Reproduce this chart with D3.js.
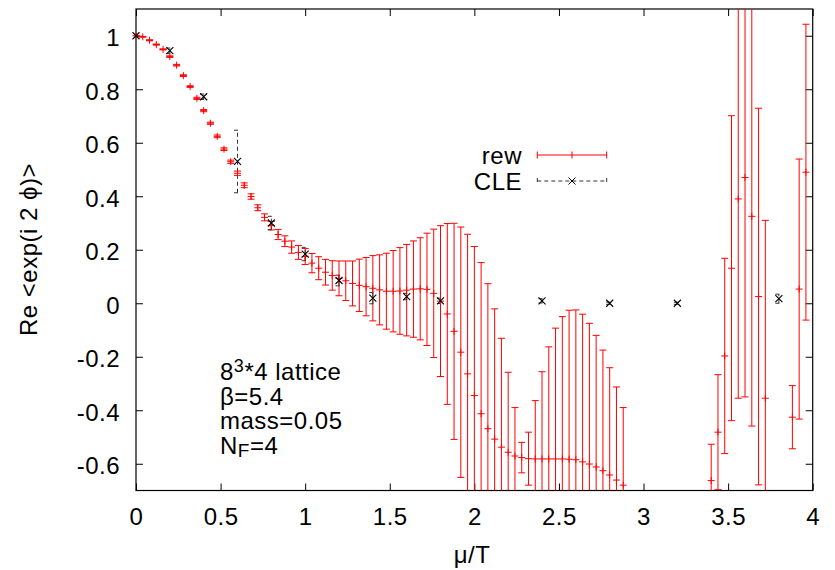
<!DOCTYPE html>
<html>
<head>
<meta charset="utf-8">
<script src="https://cdn.jsdelivr.net/npm/d3@7"></script>
<style>
    body {margin: 0; background: #fff}
    text {font-family: "Liberation Sans", Arial, Helvetica, sans-serif; fill: #000}
</style>
</head>
<body>
<svg id="chart" width="835" height="570"></svg>
<script>
const xTicks = [0, 0.5, 1, 1.5, 2, 2.5, 3, 3.5, 4]
const xTickLabels = ["0", "0.5", "1", "1.5", "2", "2.5", "3", "3.5", "4"]
const yTicks = [-0.6, -0.4, -0.2, 0, 0.2, 0.4, 0.6, 0.8, 1]
const yTickLabels = ["-0.6", "-0.4", "-0.2", "0", "0.2", "0.4", "0.6", "0.8", "1"]

// reweighting: mu/T, value, error (only the points that show up in the frame)
const rewMu = [
    0.00, 0.04, 0.08, 0.12, 0.16, 0.20, 0.24, 0.28, 0.32, 0.36,
    0.40, 0.44, 0.48, 0.52, 0.56, 0.60, 0.64, 0.68, 0.72, 0.76,
    0.80, 0.84, 0.88, 0.92, 0.96, 1.00, 1.04, 1.08, 1.12, 1.16,
    1.20, 1.24, 1.28, 1.32, 1.36, 1.40, 1.44, 1.48, 1.52, 1.56,
    1.60, 1.64, 1.68, 1.72, 1.76, 1.80, 1.84, 1.88, 1.92, 1.96,
    2.00, 2.04, 2.08, 2.12, 2.16, 2.20, 2.24, 2.28, 2.32, 2.36,
    2.40, 2.44, 2.48, 2.52, 2.56, 2.60, 2.64, 2.68, 2.72, 2.76,
    2.80, 2.84, 2.88,
    3.40, 3.44, 3.48, 3.52, 3.56, 3.60, 3.64, 3.68, 3.72,
    3.88, 3.92, 3.96]
const rewValue = [
    1.000, 0.996, 0.983, 0.967, 0.949, 0.922, 0.890, 0.851, 0.810, 0.766,
    0.720, 0.673, 0.624, 0.576, 0.529, 0.486, 0.441, 0.399, 0.357, 0.321,
    0.290, 0.257, 0.232, 0.210, 0.190, 0.175, 0.150, 0.131, 0.116, 0.104,
    0.093, 0.084, 0.074, 0.067, 0.062, 0.056, 0.050, 0.045, 0.045, 0.046,
    0.049, 0.053, 0.054, 0.052, 0.037, 0.008, -0.040, -0.105, -0.183, -0.264,
    -0.345, -0.413, -0.469, -0.508, -0.538, -0.557, -0.571, -0.577, -0.581, -0.582,
    -0.582, -0.582, -0.582, -0.582, -0.583, -0.585, -0.593, -0.601, -0.612, -0.626,
    -0.642, -0.661, -0.680,
    -0.663, -0.482, -0.197, 0.131, 0.390, 0.470, 0.325, 0.025, -0.355,
    -0.426, 0.053, 0.490]
const rewError = [
    0.001, 0.001, 0.002, 0.002, 0.002, 0.003, 0.003, 0.003, 0.003, 0.004,
    0.004, 0.004, 0.005, 0.005, 0.006, 0.008, 0.009, 0.010, 0.011, 0.013,
    0.016, 0.019, 0.020, 0.023, 0.026, 0.030, 0.036, 0.043, 0.048, 0.055,
    0.065, 0.074, 0.084, 0.098, 0.109, 0.122, 0.131, 0.142, 0.152, 0.162,
    0.171, 0.180, 0.191, 0.210, 0.240, 0.282, 0.338, 0.404, 0.468, 0.522,
    0.557, 0.565, 0.542, 0.487, 0.407, 0.299, 0.181, 0.057, 0.099, 0.218,
    0.326, 0.419, 0.489, 0.532, 0.557, 0.560, 0.552, 0.526, 0.492, 0.451,
    0.401, 0.348, 0.290,
    0.136, 0.215, 0.365, 0.570, 0.745, 0.820, 0.784, 0.704, 0.665,
    0.118, 0.486, 0.553]

// complex Langevin
const cleMu = [0, 0.2, 0.4, 0.6, 0.8, 1.0, 1.2, 1.4, 1.6, 1.8, 2.4, 2.8, 3.2, 3.8]
const cleValue = [1.0, 0.944, 0.772, 0.530, 0.300, 0.184, 0.085, 0.019, 0.025, 0.009, 0.009, 0.0, 0.0, 0.017]
const cleError = [0.002, 0.010, 0.010, 0.117, 0.025, 0.025, 0.020, 0.021, 0.012, 0.010, 0.008, 0.004, 0.004, 0.017]

const seriesNames = ["rew", "CLE"]
const infoLines = ["8^3*4 lattice", "\u03B2=5.4", "mass=0.05", "N_F=4"]

function drawChart() {
    let svg = d3.select("#chart")
    svg.append('rect').attr('width', 835).attr('height', 570).attr('fill', '#fff')

    let pxLeft = 136, pxRight = 812.7, pxTop = 9, pxBottom = 490.5
    let fontSize = 24

    let scX = d3.scaleLinear().domain([0, 4]).range([pxLeft, pxRight])
    let scY = d3.scaleLinear().domain([-0.7, 1.1]).range([pxBottom, pxTop])
    let inRange = d => d.v >= -0.7 && d.v <= 1.1

    svg.append('defs').append('clipPath').attr('id', 'plotArea')
        .append('rect')
        .attr('x', pxLeft).attr('y', pxTop)
        .attr('width', pxRight - pxLeft).attr('height', pxBottom - pxTop)

    // axes, gnuplot style: ticks pointing inwards on all four sides
    let styleAxis = function (g) {
        g.select('.domain').remove()
        g.selectAll('.tick line').attr('stroke', '#000')
        g.selectAll('.tick text')
            .attr('font-size', fontSize)
            .attr('font-family', '"Liberation Sans", Arial, sans-serif')
            .style('letter-spacing', '0.5px')
    }
    svg.append('g').attr('transform', `translate(0,${pxBottom})`)
        .call(d3.axisBottom(scX).tickValues(xTicks).tickFormat((d, i) => xTickLabels[i])
            .tickSize(-7).tickPadding(17.5))
        .call(styleAxis)
    svg.append('g').attr('transform', `translate(0,${pxTop})`)
        .call(d3.axisTop(scX).tickValues(xTicks).tickFormat('').tickSize(-7))
        .call(styleAxis)
    svg.append('g').attr('transform', `translate(${pxLeft},0)`)
        .call(d3.axisLeft(scY).tickValues(yTicks).tickFormat((d, i) => yTickLabels[i])
            .tickSize(-7).tickPadding(16))
        .call(styleAxis)
        .selectAll('.tick text').attr('dy', '0.41em')
    svg.append('g').attr('transform', `translate(${pxRight},0)`)
        .call(d3.axisRight(scY).tickValues(yTicks).tickFormat('').tickSize(-7))
        .call(styleAxis)

    svg.append('rect')
        .attr('x', pxLeft).attr('y', pxTop)
        .attr('width', pxRight - pxLeft).attr('height', pxBottom - pxTop)
        .attr('fill', 'none').attr('stroke', '#000').attr('stroke-width', 1.2)

    // axis titles
    svg.append('text')
        .attr('x', 472).attr('y', 563)
        .attr('text-anchor', 'middle').attr('font-size', fontSize)
        .style('letter-spacing', '0.5px')
        .text('\u03BC/T')
    svg.append('text')
        .attr('transform', 'translate(37,249.5) rotate(-90)')
        .attr('text-anchor', 'middle').attr('font-size', fontSize)
        .style('letter-spacing', '0.5px')
        .text('Re <exp(i 2 \u03D5)>')

    let plot = svg.append('g').attr('clip-path', 'url(#plotArea)')
    let marks = svg.append('g')   // point symbols are not clipped at the frame
    let capW = 3.5, markW = 3.5

    let errPath = function (px, pyLo, pyHi) {
        return `M${px},${pyLo}V${pyHi}M${px - capW},${pyLo}H${px + capW}M${px - capW},${pyHi}H${px + capW}`
    }

    // reweighting: red error bars with '+' markers
    let rew = rewMu.map((m, i) => ({mu: m, v: rewValue[i], e: rewError[i]}))
    plot.append('g').attr('stroke', '#ff0000').attr('stroke-width', 1).attr('fill', 'none')
        .selectAll('path').data(rew).enter()
        .append('path')
        .attr('d', d => errPath(scX(d.mu), scY(d.v - d.e), scY(d.v + d.e)))
    marks.append('g').attr('stroke', '#ff0000').attr('stroke-width', 1).attr('fill', 'none')
        .selectAll('path').data(rew.filter(inRange)).enter()
        .append('path')
        .attr('d', d => {
            let px = scX(d.mu), py = scY(d.v)
            return `M${px - markW},${py}H${px + markW}M${px},${py - markW}V${py + markW}`
        })

    // complex Langevin: dashed black error bars with 'x' markers
    let cle = cleMu.map((m, i) => ({mu: m, v: cleValue[i], e: cleError[i]}))
    plot.append('g').attr('fill', 'none').attr('stroke-width', 1)
        .attr('stroke', '#333').attr('stroke-dasharray', '4,3')
        .selectAll('path').data(cle).enter()
        .append('path')
        .attr('d', d => errPath(scX(d.mu), scY(d.v - d.e), scY(d.v + d.e)))
    marks.append('g').attr('fill', 'none').attr('stroke-width', 1.1).attr('stroke', '#000')
        .selectAll('path').data(cle.filter(inRange)).enter()
        .append('path')
        .attr('d', d => {
            let px = scX(d.mu), py = scY(d.v)
            return `M${px - markW},${py - markW}L${px + markW},${py + markW}M${px - markW},${py + markW}L${px + markW},${py - markW}`
        })

    // legend
    let legend = svg.append('g')
    let lx0 = 537.3, lx1 = 606.7, lxm = (lx0 + lx1) / 2
    let legendY = [155, 181]
    seriesNames.forEach((name, k) => {
        let ly = legendY[k]
        legend.append('text')
            .attr('x', 522).attr('y', ly + 9).attr('text-anchor', 'end')
            .attr('font-size', fontSize).style('letter-spacing', '0.5px')
            .text(name)
        let g = legend.append('g').attr('fill', 'none').attr('stroke-width', 1)
        if (k === 0) {
            g.attr('stroke', '#ff0000')
            g.append('path').attr('d', `M${lx0},${ly}H${lx1}M${lx0},${ly - 3.5}V${ly + 3.5}M${lx1},${ly - 3.5}V${ly + 3.5}`)
            g.append('path').attr('d', `M${lxm},${ly - markW}V${ly + markW}`)
        } else {
            g.append('path').attr('stroke', '#333').attr('stroke-dasharray', '4,3')
                .attr('d', `M${lx0},${ly}H${lx1}M${lx0},${ly - 3}V${ly + 3}M${lx1},${ly - 3}V${ly + 3}`)
            g.append('path').attr('stroke', '#000')
                .attr('d', `M${lxm - markW},${ly - markW}L${lxm + markW},${ly + markW}M${lxm - markW},${ly + markW}L${lxm + markW},${ly - markW}`)
        }
    })

    // parameters of the simulation, bottom left
    let info = svg.append('g').attr('font-size', fontSize).style('letter-spacing', '0.5px')
    infoLines.forEach((line, k) => {
        let t = info.append('text').attr('x', 220).attr('y', 380 + k * 24.5)
        let sup = line.indexOf('^'), sub = line.indexOf('_')
        if (sup >= 0) {
            t.append('tspan').text(line.slice(0, sup))
            t.append('tspan').attr('font-size', 18).attr('dy', -8).text(line[sup + 1])
            t.append('tspan').attr('dy', 8).text(line.slice(sup + 2))
        } else if (sub >= 0) {
            t.append('tspan').text(line.slice(0, sub))
            t.append('tspan').attr('font-size', 19).attr('dy', 3).text(line[sub + 1])
            t.append('tspan').attr('dy', -3).text(line.slice(sub + 2))
        } else {
            t.text(line)
        }
    })
}

drawChart()
</script>
</body>
</html>
